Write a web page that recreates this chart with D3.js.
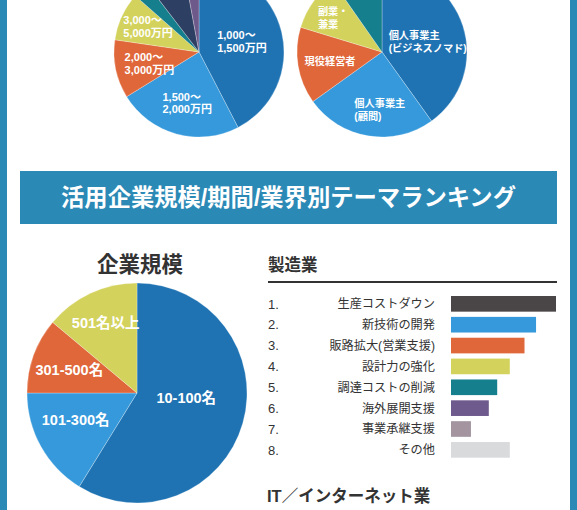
<!DOCTYPE html>
<html><head><meta charset="utf-8">
<script src="https://cdn.jsdelivr.net/npm/d3@7"></script>
<style>
html,body{margin:0;padding:0;background:#fff;}
svg{display:block;font-family:"Liberation Sans","Noto Sans CJK JP",sans-serif;}
</style></head>
<body>
<svg id="c" width="577" height="510"></svg>
<script>
// ---- data ----
const incomeCats = ["1,000～\n1,500万円","1,500～\n2,000万円","2,000～\n3,000万円","3,000～\n5,000万円","5,000万円以上","その他A","その他B"];
const incomeShown = [true,true,true,true,false,false,false];
const incomeValues = [42.4, 23.8, 11.1, 9.2, 3.1, 7.5, 2.9];

const typeCats = ["個人事業主\n(ビジネスノマド)","個人事業主\n(顧問)","現役経営者","副業・\n兼業","その他"];
const typeShown = [true,true,true,true,false];
const typeValues = [40.1, 25.0, 14.6, 10.6, 9.7];

const sizeCats = ["10-100名","101-300名","301-500名","501名以上"];
const sizeValues = [58.8, 16.2, 11.1, 13.9];

const mfgRanks = ["1.","2.","3.","4.","5.","6.","7.","8."];
const mfgThemes = ["生産コストダウン","新技術の開発","販路拡大(営業支援)","設計力の強化","調達コストの削減","海外展開支援","事業承継支援","その他"];
const mfgValues = [100, 81, 70, 56, 44, 36, 19, 56];

const bannerTitle = "活用企業規模/期間/業界別テーマランキング";
const sizeTitle = "企業規模";
const mfgTitle = "製造業";
const itTitle = "IT／インターネット業";

// ---- style / layout ----
const BLUE = "#2b89b6";
const pieColors = ["#1f73b3","#3599db","#e0673a","#d3d25c","#167f8d","#2d3f63","#6d5a8b"];
const barColors = ["#4a4547","#3599db","#e0673a","#d3d25c","#167f8d","#6e5a8c","#a3949f","#d9dadc"];

const svg = d3.select("#c");

// borders
svg.append("rect").attr("x",0).attr("y",0).attr("width",7).attr("height",510).attr("fill",BLUE);
svg.append("rect").attr("x",570).attr("y",0).attr("width",7).attr("height",510).attr("fill",BLUE);

function drawPie(cx, cy, R, cats, vals, shown, lblR, lblF, fontSize, lineH, alignLeft){
  const pie = d3.pie().sort(null).value(d=>d.v);
  const data = pie(cats.map((c,i)=>({c, v:vals[i], i, show: shown ? shown[i] : true})));
  const g = svg.append("g").attr("transform",`translate(${cx},${cy})`);
  const arc = d3.arc().innerRadius(0).outerRadius(R);
  g.selectAll("path").data(data).join("path")
    .attr("d",arc).attr("fill",d=>pieColors[d.data.i])
    .attr("stroke","rgba(255,255,255,0.45)").attr("stroke-width",0.6);
  data.forEach((d,k)=>{
    if(!d.data.show) return;
    const r = R*lblR[k];
    const a = d.startAngle + lblF[k]*(d.endAngle-d.startAngle);
    const px = r*Math.sin(a), py = -r*Math.cos(a);
    const lines = d.data.c.split("\n");
    const t = g.append("text").attr("fill","#fff").attr("font-weight","bold")
      .attr("font-size",fontSize).attr("text-anchor", alignLeft ? "start":"middle");
    lines.forEach((ln,j)=>{
      t.append("tspan").attr("x",0).attr("y",(j-(lines.length-1)/2)*lineH).attr("dy","0.35em").text(ln);
    });
    let dx = 0;
    if(alignLeft){ dx = -t.node().getBBox().width/2; }
    t.attr("transform",`translate(${px+dx},${py})`);
  });
}

// top pies
drawPie(199, 52, 85, incomeCats, incomeValues, incomeShown,
  [0.52,0.62,0.6,0.67,0.6,0.6,0.6], [0.5,0.47,0.46,0.55,0.5,0.5,0.5], 11, 12.5, true);
drawPie(382, 52, 85, typeCats, typeValues, typeShown,
  [0.55,0.68,0.62,0.7,0.6], [0.54,0.42,0.49,0.47,0.5], 10.2, 13, true);

// banner
svg.append("rect").attr("x",20).attr("y",171).attr("width",537).attr("height",53).attr("fill",BLUE);
svg.append("text").attr("x",288.5).attr("y",197.5).attr("dy","0.35em").attr("text-anchor","middle")
  .attr("fill","#fff").attr("font-weight","bold").attr("font-size",23.3).text(bannerTitle);

// size pie
svg.append("text").attr("x",140).attr("y",272).attr("text-anchor","middle")
  .attr("fill","#333").attr("font-weight","bold").attr("font-size",21.5).text(sizeTitle);
drawPie(137, 393, 110, sizeCats, sizeValues, null,
  [0.45,0.61,0.65,0.7], [0.45,0.59,0.47,0.52], 14.5, 16, false);

// manufacturing bars
svg.append("text").attr("x",268).attr("y",271).attr("fill","#333").attr("font-weight","bold")
  .attr("font-size",16.5).text(mfgTitle);
svg.append("line").attr("x1",268).attr("x2",557).attr("y1",282).attr("y2",282)
  .attr("stroke","#333").attr("stroke-width",2);

const y = d3.scaleBand().domain(mfgRanks).range([293.4,460.3]).paddingInner(0.25).paddingOuter(0.125);
const x = d3.scaleLinear().domain([0, d3.max(mfgValues)]).range([0,105]);
const bx = 451;
const rows = svg.append("g");
mfgRanks.forEach((r,i)=>{
  const yc = y(r) + y.bandwidth()/2;
  rows.append("rect").attr("x",bx).attr("y",y(r)).attr("width",x(mfgValues[i])).attr("height",y.bandwidth())
    .attr("fill",barColors[i]);
  rows.append("text").attr("x",268).attr("y",yc).attr("dy","0.36em").attr("fill","#333")
    .attr("font-size",13).text(r);
  rows.append("text").attr("x",435).attr("y",yc).attr("dy","0.36em").attr("fill","#333")
    .attr("text-anchor","end").attr("font-size",12.2).text(mfgThemes[i]);
});

svg.append("text").attr("x",267).attr("y",502).attr("fill","#333").attr("font-weight","bold")
  .attr("font-size",16.5).text(itTitle);
</script>
</body></html>
